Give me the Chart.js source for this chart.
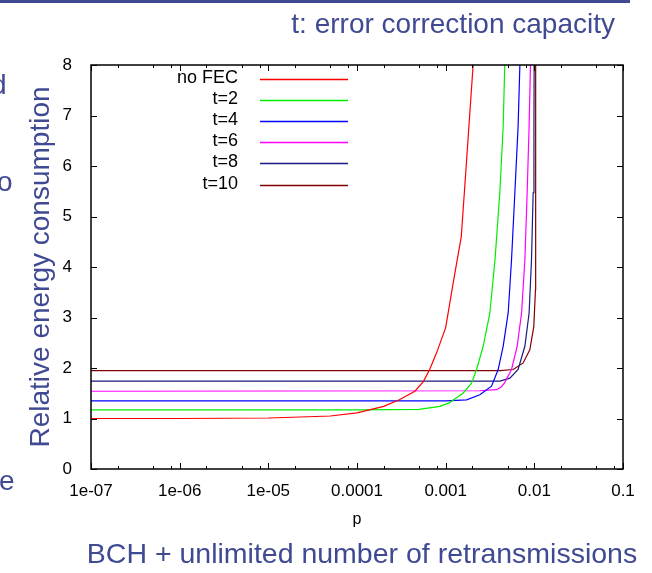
<!DOCTYPE html>
<html>
<head>
<meta charset="utf-8">
<script src="https://cdn.jsdelivr.net/npm/chart.js@4.4.0/dist/chart.umd.min.js"></script>
<style>
  html, body { margin: 0; padding: 0; background: #fff; }
  canvas { display: block; }
</style>
</head>
<body>
<canvas id="chart" width="652" height="573"></canvas>
<script>
// values: [p, relative energy]
const noFec = [[1e-7,1.0],[1e-6,1.0],[1e-5,1.01],[2.3e-5,1.03],[5e-5,1.05],[1e-4,1.11],[2e-4,1.24],[3e-4,1.37],[4.5e-4,1.54],[5.6e-4,1.73],[6.6e-4,1.97],[7.9e-4,2.30],[1e-3,2.8],[1.22e-3,3.7],[1.5e-3,4.6],[1.72e-3,6.1],[2.04e-3,8.0]];
const t2 = [[1e-7,1.17],[1e-4,1.17],[5e-4,1.18],[8.6e-4,1.24],[1.1e-3,1.31],[1.3e-3,1.40],[1.57e-3,1.50],[1.96e-3,1.70],[2.23e-3,1.97],[2.65e-3,2.43],[3.15e-3,3.09],[3.6e-3,4.14],[4.08e-3,5.47],[4.45e-3,6.78],[4.64e-3,8.0]];
const t4 = [[1e-7,1.35],[1e-3,1.35],[1.72e-3,1.37],[2.43e-3,1.47],[3.29e-3,1.64],[3.91e-3,1.97],[4.45e-3,2.43],[5.07e-3,3.09],[5.53e-3,4.14],[6.03e-3,5.47],[6.56e-3,6.78],[6.87e-3,8.0]];
const t6 = [[1e-7,1.54],[2.4e-3,1.55],[3.75e-3,1.57],[4.2e-3,1.62],[4.64e-3,1.71],[5.53e-3,1.97],[6.4e-3,2.43],[7.18e-3,3.09],[7.82e-3,4.14],[8.3e-3,5.47],[8.73e-3,6.78],[9.05e-3,8.0]];
const t8 = [[1e-7,1.74],[4.1e-3,1.74],[5.3e-3,1.80],[6.56e-3,1.97],[7.82e-3,2.43],[8.73e-3,3.09],[9.29e-3,4.14],[9.7e-3,5.47],[9.9e-3,6.78],[9.95e-3,8.0]];
const t10 = [[1e-7,1.95],[4.1e-3,1.95],[5.77e-3,1.97],[7.48e-3,2.10],[8.89e-3,2.36],[9.86e-3,2.82],[1.03e-2,3.55],[1.035e-2,8.0]];

const seriesLabels = ['no FEC', 't=2', 't=4', 't=6', 't=8', 't=10'];
const seriesColors = ['#ff0000', '#00ee00', '#0000ff', '#ff00ff', '#1a1a80', '#800000'];

const xTickValues = [1e-7, 1e-6, 1e-5, 1e-4, 1e-3, 1e-2, 1e-1];
const xTickLabels = ['1e-07', '1e-06', '1e-05', '0.0001', '0.001', '0.01', '0.1'];
const xMinorSteps = [2, 5, 8];

const slideBlue = '#3f4a93';
const FONT = "'Liberation Sans', Arial, sans-serif";

const datasets = [noFec, t2, t4, t6, t8, t10].map((s, i) => ({
  label: seriesLabels[i],
  data: s.map(d => ({x: d[0], y: d[1]})),
  borderColor: seriesColors[i],
  backgroundColor: seriesColors[i],
  borderWidth: 1.2,
  pointRadius: 0,
  tension: 0,
  fill: false
}));

// gnuplot look: frame, inward ticks, key with text left of the sample line
const gnuplotFrame = {
  id: 'gnuplotFrame',
  afterDatasetsDraw(chart) {
    const ctx = chart.ctx;
    const a = chart.chartArea;
    const xs = chart.scales.x, ys = chart.scales.y;
    ctx.save();
    ctx.strokeStyle = '#000';
    ctx.lineWidth = 1;
    ctx.beginPath();
    // x ticks, bottom and top
    xTickValues.forEach((v, i) => {
      const px = Math.round(xs.getPixelForValue(v)) + 0.5;
      ctx.moveTo(px, a.bottom); ctx.lineTo(px, a.bottom - 6);
      ctx.moveTo(px, a.top); ctx.lineTo(px, a.top + 6);
      if (i < xTickValues.length - 1) {
        xMinorSteps.forEach(m => {
          const mx = Math.round(xs.getPixelForValue(v * m)) + 0.5;
          ctx.moveTo(mx, a.bottom); ctx.lineTo(mx, a.bottom - 3);
          ctx.moveTo(mx, a.top); ctx.lineTo(mx, a.top + 3);
        });
      }
    });
    ys.ticks.forEach(t => {
      const py = Math.round(ys.getPixelForValue(t.value)) + 0.5;
      ctx.moveTo(a.left, py); ctx.lineTo(a.left + 6, py);
      ctx.moveTo(a.right, py); ctx.lineTo(a.right - 6, py);
    });
    ctx.stroke();
    ctx.lineWidth = 1.5;
    ctx.strokeRect(Math.round(a.left), Math.round(a.top), Math.round(a.right - a.left), Math.round(a.bottom - a.top));

    // key
    ctx.font = '18px ' + FONT;
    ctx.textAlign = 'right';
    ctx.textBaseline = 'alphabetic';
    chart.data.datasets.forEach((ds, i) => {
      const ly = 79 + i * 21.1;
      ctx.fillStyle = '#000';
      ctx.fillText(ds.label, 238, ly + 4);
      ctx.strokeStyle = ds.borderColor;
      ctx.lineWidth = 1.5;
      ctx.beginPath();
      ctx.moveTo(260, Math.round(ly) + 0.5);
      ctx.lineTo(348, Math.round(ly) + 0.5);
      ctx.stroke();
    });
    ctx.restore();
  },
  afterDraw(chart) {
    // slide decoration around the plot
    const ctx = chart.ctx;
    ctx.save();
    ctx.fillStyle = slideBlue;
    ctx.fillRect(0, 0, 630, 3);
    ctx.font = '28px ' + FONT;
    ctx.textBaseline = 'alphabetic';
    ctx.textAlign = 'right';
    ctx.fillText('t: error correction capacity', 615, 33);
    ctx.textAlign = 'center';
    ctx.font = '28.5px ' + FONT;
    ctx.fillText('BCH + unlimited number of retransmissions', 362, 563);
    ctx.font = '28px ' + FONT;
    ctx.textAlign = 'left';
    ctx.fillText('d', -9, 94);
    ctx.fillText('o', -3, 191);
    ctx.fillText('e', -1, 490);
    ctx.restore();
  }
};

new Chart(document.getElementById('chart').getContext('2d'), {
  type: 'line',
  data: { datasets: datasets },
  plugins: [gnuplotFrame],
  options: {
    responsive: false,
    animation: false,
    layout: { padding: { left: 0, right: 29, top: 65, bottom: 0 } },
    plugins: { legend: { display: false }, tooltip: { enabled: false } },
    scales: {
      x: {
        type: 'logarithmic',
        min: 1e-7,
        max: 1e-1,
        afterBuildTicks: scale => { scale.ticks = xTickValues.map(v => ({value: v})); },
        afterFit: scale => { scale.height = 104; },
        grid: { display: false, drawTicks: false },
        border: { display: false },
        ticks: {
          autoSkip: false,
          maxRotation: 0,
          padding: 12,
          color: '#000',
          font: { family: FONT, size: 17 },
          callback: (v, i) => xTickLabels[i]
        },
        title: {
          display: true,
          text: 'p',
          color: '#000',
          font: { family: FONT, size: 16 },
          padding: { top: 0, bottom: 44 }
        }
      },
      y: {
        type: 'linear',
        min: 0,
        max: 8,
        afterFit: scale => { scale.width = 91; },
        grid: { display: false, drawTicks: false },
        border: { display: false },
        ticks: {
          stepSize: 1,
          padding: 19,
          color: '#000',
          font: { family: FONT, size: 17 }
        },
        title: {
          display: true,
          text: 'Relative energy consumption',
          color: slideBlue,
          font: { family: FONT, size: 28 },
          padding: { top: 24, bottom: 0 }
        }
      }
    }
  }
});
</script>
</body>
</html>
